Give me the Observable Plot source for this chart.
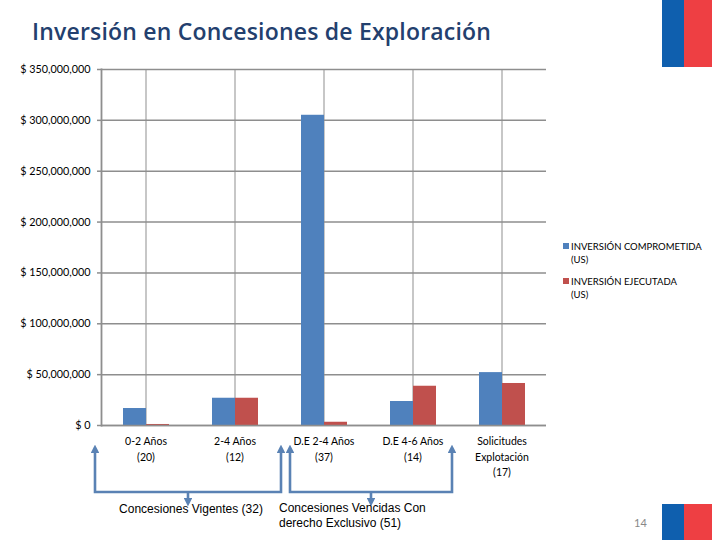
<!DOCTYPE html>
<html><head><meta charset="utf-8">
<script src="https://cdn.jsdelivr.net/npm/d3@7"></script>
<script src="https://cdn.jsdelivr.net/npm/@observablehq/plot@0.6"></script>
<style>
body{margin:0;background:#fff;}
#wrap{position:relative;width:720px;height:540px;overflow:hidden;font-family:Lato,"Open Sans",sans-serif;}
#wrap > svg{position:absolute;left:0;top:0;}
.title{position:absolute;left:32px;top:15px;font-family:"Open Sans",Lato,sans-serif;font-weight:600;font-size:23px;color:#23406E;white-space:nowrap;letter-spacing:0.2px;}
.legend{position:absolute;left:563px;top:240px;font-family:Lato,sans-serif;font-size:9.5px;color:#000;line-height:13px;}
.legend .item{position:relative;padding-left:8px;margin-bottom:9px;width:150px;}
.legend .sw{position:absolute;left:0;top:3px;width:6px;height:6px;}
.flag{position:absolute;}
.page{position:absolute;left:634px;top:516px;font-size:11px;color:#888;font-family:Lato,sans-serif;}
</style></head><body><div id="wrap"></div>
<script>
// ---- data ----
const categories = ["0-2 Años", "2-4 Años", "D.E 2-4 Años", "D.E 4-6 Años", "Solicitudes Explotación"];
const categoryLabels = ["0-2 Años\n(20)", "2-4 Años\n(12)", "D.E 2-4 Años\n(37)", "D.E 4-6 Años\n(14)", "Solicitudes\nExplotación\n(17)"];
const series = ["INVERSIÓN COMPROMETIDA (US)", "INVERSIÓN EJECUTADA (US)"];
const comprometida = [16700000, 26800000, 305000000, 23600000, 52000000];
const ejecutada = [1000000, 26800000, 3200000, 38600000, 41300000];
const yTicks = [0, 50000000, 100000000, 150000000, 200000000, 250000000, 300000000, 350000000];
const groupLabels = ["Concesiones Vigentes (32)", "Concesiones Vencidas Con\nderecho Exclusivo (51)"];
const groupMembers = [["0-2 Años", "2-4 Años"], ["D.E 2-4 Años", "D.E 4-6 Años"]];
const titleText = "Inversión en Concesiones de Exploración";
const pageNumber = "14";

// ---- styles ----
const colors = ["#4F81BD", "#C0504D"];
const gridColorY = "#8E8E8E";
const gridColorX = "#B4B4B4";
const arrowColor = "#5A82B4";

const data = [];
categories.forEach((c, i) => {
  data.push({category: c, series: series[0], value: comprometida[i]});
  data.push({category: c, series: series[1], value: ejecutada[i]});
});

const wrap = document.getElementById("wrap");

const chart = Plot.plot({
  width: 720, height: 540,
  marginLeft: 100, marginRight: 174, marginTop: 69, marginBottom: 115,
  style: {fontFamily: "Lato, sans-serif", fontSize: "10px", color: "#000", background: "transparent"},
  fx: {domain: categories, padding: 0, label: null, axis: null},
  x: {domain: series, paddingInner: 0, paddingOuter: 0.86, axis: null},
  y: {domain: [0, 350000000], label: null},
  color: {domain: series, range: colors},
  marks: [
    Plot.gridFx({stroke: gridColorX, strokeOpacity: 1, strokeWidth: 1.5}),
    Plot.gridY(yTicks, {stroke: gridColorY, strokeOpacity: 1, strokeWidth: 1.5}),
    Plot.axisY(yTicks, {tickFormat: d => "$ " + d3.format(",")(d), tickSize: 4, tickPadding: 7, stroke: gridColorY, strokeWidth: 1.5, fontSize: 10.8}),
    Plot.axisFx({anchor: "bottom", tickFormat: d => categoryLabels[categories.indexOf(d)], tickSize: 0, tickPadding: 9, lineHeight: 1.45, fontSize: 10.5, label: null}),
    Plot.barY(data, {fx: "category", x: "series", y: "value", fill: "series"}),
    Plot.ruleY([0], {stroke: gridColorY, strokeWidth: 1.5}),
    Plot.frame({anchor: "left", facetAnchor: "left", stroke: gridColorY, strokeWidth: 1.8})
  ]
});
wrap.appendChild(chart);

// title
const t = document.createElement("div");
t.className = "title"; t.textContent = titleText; wrap.appendChild(t);

// legend
const lg = document.createElement("div");
lg.className = "legend";
series.forEach((s, i) => {
  const it = document.createElement("div"); it.className = "item";
  const parts = s.split(" (");
  it.innerHTML = `<span class="sw" style="background:${colors[i]}"></span>${parts[0]}<br>(${parts[1]}`;
  lg.appendChild(it);
});
wrap.appendChild(lg);

// flags
[[662, 0, 22, 67, "#0F5FAE"], [684, 0, 28, 67, "#EE3F43"], [662, 504, 22, 36, "#0F5FAE"], [684, 504, 28, 36, "#EE3F43"]].forEach(([x, y, w, h, c]) => {
  const d = document.createElement("div"); d.className = "flag";
  d.style.cssText = `left:${x}px;top:${y}px;width:${w}px;height:${h}px;background:${c}`;
  wrap.appendChild(d);
});
const pg = document.createElement("div"); pg.className = "page"; pg.textContent = pageNumber; wrap.appendChild(pg);

// bracket annotations from the fx scale
const fx = chart.scale("fx");
const bw = fx.bandwidth;
const topY = 449, barY = 492, downY = 502;
const pads = [[-6, 2], [11, -5]];
const svg = d3.select(wrap).append("svg").attr("width", 720).attr("height", 540).style("position", "absolute").style("left", 0).style("top", 0);
const defs = svg.append("defs");
defs.append("marker").attr("id", "ah").attr("viewBox", "0 0 10 10").attr("refX", 5).attr("refY", 5)
  .attr("markerWidth", 3.4).attr("markerHeight", 3.4).attr("orient", "auto-start-reverse")
  .append("path").attr("d", "M0,0 L10,5 L0,10 z").attr("fill", arrowColor);
groupMembers.forEach((m, gi) => {
  const x0 = fx.apply(m[0]) + pads[gi][0];
  const x1 = fx.apply(m[m.length - 1]) + bw + pads[gi][1];
  const xm = (x0 + x1) / 2;
  const g = svg.append("g").attr("stroke", arrowColor).attr("stroke-width", 2.6).attr("fill", "none");
  g.append("path").attr("d", `M${x0},${topY} L${x0},${barY} L${x1},${barY} L${x1},${topY}`)
    .attr("marker-start", "url(#ah)").attr("marker-end", "url(#ah)");
  g.append("path").attr("d", `M${xm},${barY} L${xm},${downY}`).attr("marker-end", "url(#ah)");
  const lines = groupLabels[gi].split("\n");
  const txt = svg.append("text").attr("font-family", "'Liberation Sans', Arial, sans-serif").attr("font-size", 12).attr("fill", "#000");
  if (gi === 0) {
    txt.attr("text-anchor", "middle");
    lines.forEach((l, li) => txt.append("tspan").attr("x", xm + 3).attr("y", 513 + li * 14).text(l));
  } else {
    txt.attr("text-anchor", "start");
    lines.forEach((l, li) => txt.append("tspan").attr("x", x0 - 11).attr("y", 512 + li * 14.5).text(l));
  }
});
</script></body></html>
